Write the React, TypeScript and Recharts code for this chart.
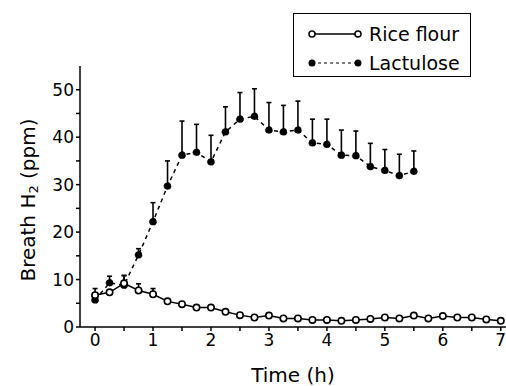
import { LineChart, Line, XAxis, YAxis, ErrorBar, Label } from 'recharts'

const times = [
  0, 0.25, 0.5, 0.75, 1, 1.25, 1.5, 1.75, 2, 2.25, 2.5, 2.75, 3, 3.25, 3.5, 3.75, 4, 4.25, 4.5,
  4.75, 5, 5.25, 5.5, 5.75, 6, 6.25, 6.5, 6.75, 7
]
const riceFlour = [
  6.7, 7.3, 9.2, 7.7, 6.9, 5.4, 4.8, 4.1, 4.1, 3.2, 2.5, 2.0, 2.4, 1.8, 1.8, 1.5, 1.5, 1.3, 1.5,
  1.7, 2.0, 1.8, 2.4, 1.8, 2.3, 2.0, 2.0, 1.6, 1.3
]
const riceFlourErr = [0, 0, 1.6, 1.4, 1.2]
const lactulose = [
  5.7, 9.3, 8.8, 15.2, 22.2, 29.7, 36.2, 36.8, 34.8, 41.1, 43.8, 44.4, 41.5, 41.1, 41.5, 38.8,
  38.5, 36.2, 36.1, 33.8, 33.0, 31.9, 32.8
]
const lactuloseErr = [
  2.4, 1.4, 2.1, 1.3, 4.0, 5.3, 7.2, 5.9, 5.6, 5.3, 5.6, 5.8, 5.8, 5.6, 6.1, 5.0, 5.3, 5.3, 5.2,
  4.9, 4.4, 4.5, 4.3
]
const xTicks = times
const yTicks = [0, 5, 10, 15, 20, 25, 30, 35, 40, 45, 50]

const riceData = times.map((t, i) => ({
  t,
  v: riceFlour[i],
  err: riceFlourErr[i] ? [0, riceFlourErr[i]] : undefined
}))
const lacData = lactulose.map((v, i) => ({ t: times[i], v, err: [0, lactuloseErr[i]] }))

const FONT = '"DejaVu Sans", sans-serif'

const XTick = ({ x, y, payload }: any) => {
  if (!Number.isInteger(payload.value)) return null
  return (
    <text x={x} y={y} dy={13} textAnchor="middle" fontSize={17} fontFamily={FONT} fill="#000">
      {payload.value}
    </text>
  )
}

const YTick = ({ x, y, payload }: any) => {
  if (payload.value % 10 !== 0) return null
  return (
    <text x={x} y={y} dy={6} textAnchor="end" fontSize={17} fontFamily={FONT} fill="#000">
      {payload.value}
    </text>
  )
}

const YTitle = ({ viewBox }: any) => {
  const cx = 28
  const cy = 200
  return (
    <text
      x={cx}
      y={cy}
      transform={`rotate(-90, ${cx}, ${cy})`}
      textAnchor="middle"
      dominantBaseline="central"
      fontSize={20}
      fontFamily={FONT}
      fill="#000"
    >
      Breath H<tspan fontSize={13} dy={5}>2</tspan>
      <tspan dy={-5}> (ppm)</tspan>
    </text>
  )
}

const XTitle = ({ viewBox }: any) => (
  <text
    x={viewBox.x + viewBox.width / 2}
    y={382}
    textAnchor="middle"
    fontSize={20}
    fontFamily={FONT}
    fill="#000"
  >
    Time (h)
  </text>
)

const LegendBox = () => (
  <div
    style={{
      position: 'absolute',
      left: 293,
      top: 13,
      width: 176,
      height: 62,
      border: '1.5px solid #000',
      background: '#fff',
      fontFamily: FONT,
      fontSize: 19,
      color: '#000'
    }}
  >
    <svg width={70} height={62} style={{ position: 'absolute', left: 0, top: 0 }}>
      <line x1={18} y1={20} x2={64} y2={20} stroke="#000" strokeWidth={1.5} />
      <circle cx={18} cy={20} r={3} fill="#fff" stroke="#000" strokeWidth={1.5} />
      <circle cx={64} cy={20} r={3} fill="#fff" stroke="#000" strokeWidth={1.5} />
      <line x1={18} y1={49} x2={64} y2={49} stroke="#000" strokeWidth={1.2} strokeDasharray="3 3" />
      <circle cx={18} cy={49} r={3.5} fill="#000" />
      <circle cx={64} cy={49} r={3.5} fill="#000" />
    </svg>
    <div style={{ position: 'absolute', left: 75, top: 8, lineHeight: '24px' }}>Rice flour</div>
    <div style={{ position: 'absolute', left: 75, top: 37, lineHeight: '24px' }}>Lactulose</div>
  </div>
)

export default function App() {
  return (
    <div style={{ position: 'absolute', left: 0, top: 0, width: 506, height: 386, background: '#fff' }}>
      <LineChart width={506} height={386} margin={{ top: 66, right: 0, bottom: 0, left: 0 }}>
        <XAxis
          type="number"
          dataKey="t"
          domain={[-0.26, 7.09]}
          ticks={xTicks}
          allowDataOverflow
          height={59}
          stroke="#000"
          strokeWidth={1.5}
          tickSize={4}
          tick={<XTick />}
        >
          <Label content={<XTitle />} />
        </XAxis>
        <YAxis
          type="number"
          domain={[0, 55]}
          ticks={yTicks}
          allowDataOverflow
          width={80}
          stroke="#000"
          strokeWidth={1.5}
          tickSize={4}
          tick={<YTick />}
        >
          <Label content={<YTitle />} />
        </YAxis>
        <Line
          data={lacData}
          dataKey="v"
          name="Lactulose"
          stroke="#000"
          strokeWidth={1.5}
          strokeDasharray="4 4"
          dot={{ r: 3.6, fill: '#000', stroke: '#000', strokeWidth: 0.5 }}
          isAnimationActive={false}
        >
          <ErrorBar dataKey="err" direction="y" width={2.5} stroke="#000" strokeWidth={1.6} />
        </Line>
        <Line
          data={riceData}
          dataKey="v"
          name="Rice flour"
          stroke="#000"
          strokeWidth={1.5}
          dot={{ r: 3.2, fill: '#fff', stroke: '#000', strokeWidth: 1.6 }}
          isAnimationActive={false}
        >
          <ErrorBar dataKey="err" direction="y" width={2.5} stroke="#000" strokeWidth={1.6} />
        </Line>
      </LineChart>
      <LegendBox />
    </div>
  )
}
